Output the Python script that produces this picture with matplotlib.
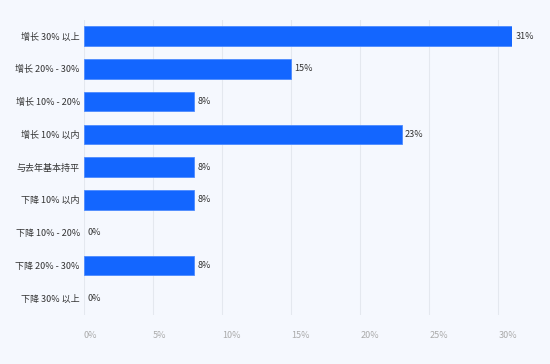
import matplotlib
matplotlib.use("Agg")
import matplotlib.pyplot as plt

plt.rcParams['font.family'] = ['Noto Sans CJK SC', 'DejaVu Sans']

# data, top to bottom
categories = ['增长 30% 以上', '增长 20% - 30%', '增长 10% - 20%', '增长 10% 以内',
              '与去年基本持平', '下降 10% 以内', '下降 10% - 20%', '下降 20% - 30%',
              '下降 30% 以上']
values = [31, 15, 8, 23, 8, 8, 0, 8, 0]
xticks = [0, 5, 10, 15, 20, 25, 30]

bg = '#f5f8fe'
fig = plt.figure(figsize=(5.5, 3.64), dpi=100, facecolor=bg)
ax = fig.add_axes([0.1527, 0.1357, 0.9309 - 0.1527, 0.946 - 0.1357])
ax.set_facecolor(bg)

ypos = list(range(len(categories)))
edges = ['#4d8bff' if v > 0 else 'none' for v in values]
ax.barh(ypos, values, height=0.6, color='#1366ff', edgecolor=edges,
        linewidth=0.6, zorder=3)
for y, v in zip(ypos, values):
    ax.text(v + 0.25, y, f'{v}%', va='center', ha='left', fontsize=6.5,
            color='#333333', zorder=4)

ax.set_ylim(len(categories) - 0.5, -0.5)
ax.set_xlim(0, 31)
ax.set_yticks(ypos)
ax.set_yticklabels(categories, fontsize=6.5, color='#333333')
ax.set_xticks(xticks)
ax.set_xticklabels([f'{t}%' for t in xticks], fontsize=6.5, color='#aaaaaa',
                   ha='left')
ax.tick_params(axis='both', length=0)
ax.tick_params(axis='x', pad=12)
ax.tick_params(axis='y', pad=3)
ax.grid(axis='x', color='#e4e8ef', linewidth=0.8, zorder=0)
for s in ax.spines.values():
    s.set_visible(False)

fig.savefig('out.png', dpi=100, facecolor=bg)
